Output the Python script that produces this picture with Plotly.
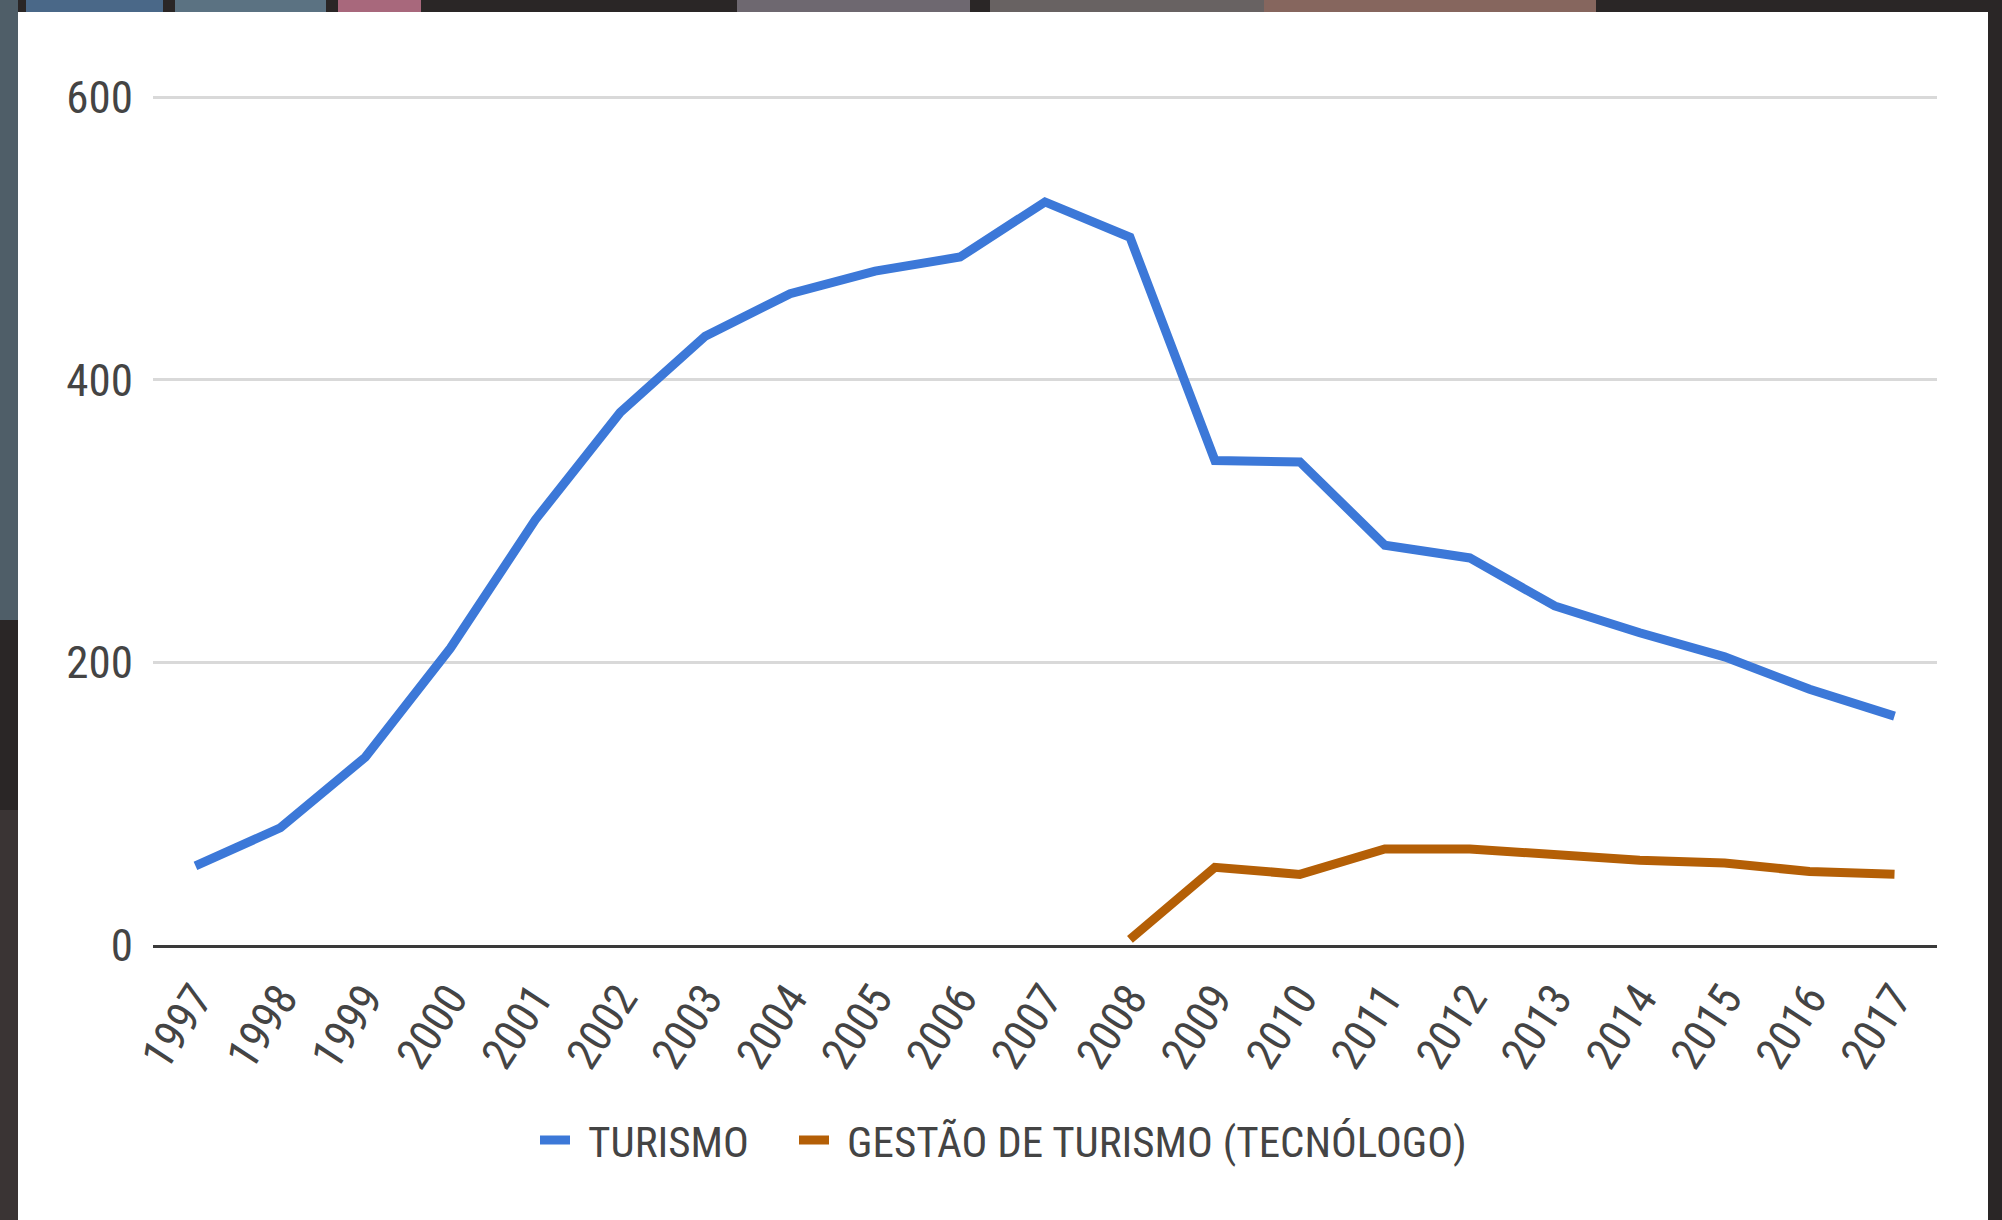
import plotly.graph_objects as go

years = [str(y) for y in range(1997, 2018)]
turismo = [56, 83, 133, 210, 301, 377, 431, 461, 477, 487, 526, 501,
           343, 342, 283, 274, 240, 221, 204, 181, 162]
gestao = [None] * 11 + [4, 55, 50, 68, 68, 64, 60, 58, 52, 50]
y_ticks = [0, 200, 400, 600]
series_names = ["TURISMO", "GESTÃO DE TURISMO (TECNÓLOGO)"]

W, H = 2002, 1220
L, T = 153, 96
R = W - 1937
B = H - 945
pw, ph = W - L - R, H - T - B

def px_x(p):
    return (p - L) / pw

def px_y(p):
    return (H - B - p) / ph

FONT = ("Liberation Sans Narrow, Roboto Condensed, Noto Sans Condensed, "
        "Open Sans Condensed, DejaVu Sans Condensed, Liberation Sans, Arial, sans-serif")
TXT = "#444444"
GAP = "\u2004"

fig = go.Figure()
fig.add_trace(go.Scatter(x=years, y=turismo, mode="lines", name=GAP + series_names[0],
                         line=dict(color="#3c78d8", width=9), legend="legend"))
fig.add_trace(go.Scatter(x=years, y=gestao, mode="lines",
                         name=GAP + series_names[1],
                         line=dict(color="#b45f06", width=9),
                         connectgaps=False, legend="legend2"))

# background photo-like border pieces
bg_pieces = [
    (0, 18, 0, 620, "#4f5e68"),
    (0, 18, 810, 1240, "#3a3434"),
    (26, 163, 0, 12, "#4a6888"),
    (175, 326, 0, 12, "#5b7282"),
    (338, 421, 0, 12, "#a8687c"),
    (737, 970, 0, 12, "#6e6870"),
    (990, 1264, 0, 12, "#686262"),
    (1264, 1596, 0, 12, "#86665e"),
]
for x0, x1, y0, y1, c in bg_pieces:
    fig.add_shape(type="rect", xref="paper", yref="paper",
                  x0=px_x(x0), x1=px_x(x1), y0=px_y(y1), y1=px_y(y0),
                  fillcolor=c, line=dict(width=0), layer="below")

fig.add_shape(type="rect", xref="paper", yref="paper",
              x0=px_x(18), x1=px_x(1988), y0=px_y(1240), y1=px_y(12),
              fillcolor="white", line=dict(width=0), layer="below")

leg_common = dict(orientation="h", xanchor="left", yanchor="middle",
                  y=px_y(1140), font=dict(size=43, color=TXT, family=FONT),
                  bgcolor="rgba(0,0,0,0)", borderwidth=0)

fig.update_layout(
    width=W, height=H,
    margin=dict(l=L, r=R, t=T, b=B, pad=0),
    paper_bgcolor="#2a2626",
    plot_bgcolor="white",
    font=dict(family=FONT, color=TXT, size=44),
    showlegend=True,
    legend=dict(x=px_x(535), **leg_common),
    legend2=dict(x=px_x(794), **leg_common),
    xaxis=dict(type="category", range=[-0.5, 20.5], showgrid=False,
               showline=True, linecolor="#3a3a3a", linewidth=3,
               tickangle=-57, ticks="outside", ticklen=6,
               tickcolor="rgba(0,0,0,0)",
               tickfont=dict(size=45, family=FONT, color=TXT),
               zeroline=False, fixedrange=True),
    yaxis=dict(range=[0, 601], tickvals=y_ticks, showgrid=True,
               gridcolor="#d9d9d9", gridwidth=3, zeroline=False,
               ticks="outside", ticklen=10, tickcolor="rgba(0,0,0,0)",
               tickfont=dict(size=45, family=FONT, color=TXT),
               showline=False, fixedrange=True),
)

fig.write_html("out.html", config={"displayModeBar": False},
               post_script="document.body.style.margin='0';")
